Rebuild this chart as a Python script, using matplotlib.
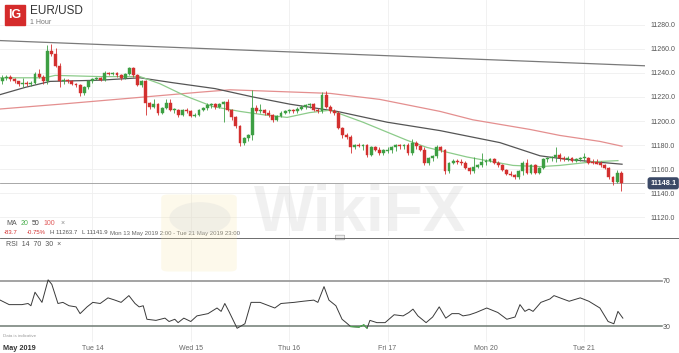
import numpy as np
import matplotlib.pyplot as plt
from matplotlib.patches import Rectangle, FancyBboxPatch, Circle
from matplotlib.transforms import blended_transform_factory

plt.rcParams['font.family'] = ['Liberation Sans', 'DejaVu Sans']

# EUR/USD hourly candles (price x 10000), hour index counted from Mon 13 May 00:00,
# weekend hours skipped so every trading day is 24 slots wide
first_hour = 2
opens = [11233, 11236, 11237, 11235, 11233, 11231, 11232, 11231, 11232, 11239,
         11237, 11233, 11258, 11256, 11246, 11233, 11234, 11233, 11231, 11230,
         11223, 11228, 11233, 11235, 11236, 11234, 11240, 11239, 11240, 11238,
         11236, 11239, 11244, 11238, 11230, 11233, 11215, 11212, 11214, 11207,
         11211, 11215, 11209, 11209, 11205, 11209, 11208, 11204, 11205, 11209,
         11211, 11213, 11214, 11212, 11214, 11216, 11209, 11203, 11196, 11182,
         11186, 11188, 11211, 11208, 11209, 11207, 11205, 11201, 11204, 11207,
         11208, 11209, 11208, 11210, 11212, 11213, 11214, 11209, 11208, 11222,
         11212, 11208, 11207, 11194, 11188, 11187, 11178, 11180, 11179, 11180,
         11172, 11178, 11176, 11173, 11175, 11176, 11178, 11180, 11179, 11180,
         11173, 11182, 11179, 11176, 11165, 11169, 11171, 11178, 11176, 11158,
         11165, 11167, 11166, 11165, 11161, 11158, 11162, 11163, 11166, 11167,
         11168, 11165, 11163, 11159, 11156, 11155, 11153, 11158, 11165, 11157,
         11163, 11157, 11161, 11168, 11169, 11170, 11172, 11169, 11168, 11169,
         11167, 11168, 11169, 11169, 11166, 11166, 11165, 11163, 11161, 11153,
         11149, 11157]
highs = [11238, 11238, 11238, 11236, 11233, 11236, 11233, 11233, 11241, 11243,
         11238, 11263, 11264, 11261, 11248, 11236, 11235, 11234, 11232, 11231,
         11229, 11234, 11236, 11237, 11237, 11242, 11241, 11241, 11241, 11239,
         11240, 11245, 11245, 11239, 11234, 11234, 11216, 11218, 11215, 11212,
         11218, 11218, 11211, 11210, 11210, 11211, 11209, 11207, 11210, 11212,
         11215, 11215, 11215, 11215, 11217, 11218, 11210, 11204, 11197, 11187,
         11189, 11226, 11213, 11214, 11210, 11209, 11206, 11205, 11208, 11209,
         11210, 11210, 11212, 11213, 11214, 11215, 11215, 11211, 11224, 11225,
         11213, 11210, 11208, 11195, 11190, 11188, 11181, 11182, 11181, 11181,
         11179, 11179, 11178, 11177, 11178, 11179, 11181, 11181, 11181, 11182,
         11185, 11183, 11180, 11178, 11170, 11172, 11180, 11179, 11177, 11166,
         11168, 11168, 11168, 11167, 11162, 11170, 11164, 11173, 11168, 11169,
         11169, 11167, 11164, 11160, 11158, 11156, 11159, 11167, 11168, 11164,
         11164, 11162, 11169, 11170, 11171, 11178, 11173, 11171, 11171, 11170,
         11169, 11170, 11173, 11170, 11168, 11168, 11167, 11164, 11162, 11154,
         11159, 11158]
lows = [11231, 11234, 11233, 11232, 11229, 11228, 11229, 11229, 11231, 11236,
        11231, 11231, 11254, 11245, 11228, 11231, 11232, 11230, 11228, 11221,
        11222, 11227, 11232, 11234, 11233, 11233, 11238, 11238, 11237, 11234,
        11235, 11238, 11237, 11229, 11228, 11205, 11210, 11211, 11205, 11206,
        11210, 11208, 11207, 11203, 11204, 11207, 11203, 11203, 11204, 11208,
        11209, 11211, 11210, 11211, 11199, 11208, 11201, 11194, 11179, 11180,
        11183, 11184, 11207, 11207, 11205, 11203, 11199, 11200, 11203, 11206,
        11207, 11207, 11207, 11209, 11210, 11211, 11208, 11207, 11207, 11211,
        11207, 11205, 11193, 11186, 11185, 11173, 11177, 11178, 11176, 11170,
        11171, 11175, 11172, 11172, 11173, 11173, 11175, 11177, 11177, 11172,
        11172, 11177, 11175, 11163, 11163, 11167, 11169, 11174, 11156, 11157,
        11164, 11164, 11163, 11160, 11156, 11157, 11161, 11162, 11163, 11166,
        11164, 11162, 11158, 11155, 11154, 11152, 11152, 11155, 11156, 11156,
        11156, 11156, 11160, 11166, 11167, 11166, 11167, 11167, 11167, 11166,
        11166, 11167, 11167, 11164, 11164, 11164, 11162, 11160, 11152, 11147,
        11148, 11141.9]
closes = [11236, 11237, 11235, 11233, 11231, 11232, 11231, 11232, 11239, 11237,
          11233, 11258, 11256, 11246, 11233, 11234, 11233, 11231, 11230, 11223,
          11228, 11233, 11235, 11236, 11234, 11240, 11239, 11240, 11238, 11236,
          11239, 11244, 11238, 11230, 11233, 11215, 11212, 11214, 11207, 11211,
          11215, 11209, 11209, 11205, 11209, 11208, 11204, 11205, 11209, 11211,
          11213, 11214, 11212, 11214, 11216, 11209, 11203, 11196, 11182, 11186,
          11188, 11211, 11208, 11209, 11207, 11205, 11201, 11204, 11207, 11208,
          11209, 11208, 11210, 11212, 11213, 11214, 11209, 11208, 11222, 11212,
          11208, 11207, 11194, 11188, 11187, 11178, 11180, 11179, 11180, 11172,
          11178, 11176, 11173, 11176, 11176, 11178, 11180, 11179, 11180, 11173,
          11182, 11179, 11176, 11165, 11169, 11171, 11178, 11176, 11158, 11165,
          11167, 11166, 11165, 11161, 11158, 11162, 11163, 11166, 11167, 11168,
          11165, 11163, 11159, 11156, 11155, 11153, 11158, 11165, 11157, 11163,
          11157, 11161, 11168, 11169, 11170, 11172, 11169, 11168, 11169, 11167,
          11168, 11169, 11169, 11165, 11165, 11164, 11163, 11161, 11153, 11149,
          11157, 11148.1]

# moving averages (hour index, price)
ma20_x = [1.5, 12.4, 14.9, 25.9, 35.6, 40.5, 46.6, 53.4, 60, 66.1, 71.5, 77, 82,
          90, 100.7, 105.6, 115.4, 126.6, 133.2, 138, 146.1, 152.2]
ma20 = [11236, 11236, 11238, 11237, 11237, 11231, 11221, 11212, 11208, 11205,
        11203, 11207, 11209, 11199, 11184, 11178, 11170, 11163, 11162, 11163,
        11166, 11167]
ma50_x = [1.5, 7.6, 13.7, 25.9, 35.6, 43.4, 53.9, 63.2, 72.2, 83.7, 95.9, 108.8,
          123.4, 133.2, 139.8, 153.2]
ma50 = [11222, 11228, 11233, 11234, 11236, 11232, 11227, 11220, 11214, 11208,
        11199, 11192, 11182, 11171, 11168, 11164]
ma100_x = [1.5, 16.1, 33.2, 50.2, 57.6, 82, 94.1, 108.8, 116.8, 130.7, 138,
           147.8, 153.2]
ma100 = [11210, 11214, 11219, 11224, 11226, 11223, 11218, 11208, 11201, 11193,
         11188, 11183, 11179]

# resistance trendline end points
trend_x = [1.46, 158.8]
trend_y = [11267, 11246]
last_price = 11148.1

# RSI(14)
rsi_x = [1.5, 3.7, 6.8, 8.3, 9, 10, 11.7, 13.2, 14.1, 15.6, 16.8, 18.3, 20, 21,
         22.7, 24.1, 25.9, 27.8, 29.5, 31, 32.9, 34.4, 35.4, 36.4, 37.3, 39.5,
         41.7, 42.7, 44.1, 44.9, 46.3, 48, 49.5, 52.2, 54.4, 55.4, 56.3, 57.3,
         59.3, 61.2, 62.7, 64.9, 68.5, 70, 73.2, 75.4, 78, 79, 80.5, 81.7, 83.4,
         84.9, 85.9, 87, 89, 90.2, 91, 91.7, 93.4, 95.4, 97.6, 99.8, 101.2, 102.2,
         103.4, 105.4, 107, 108.6, 110.2, 111.7, 113.4, 114.4, 116, 117.6, 120.2,
         122.9, 125.1, 127.1, 128.3, 129.5, 130.5, 131.5, 133.4, 135.6, 136.6,
         138.8, 140.3, 143, 145.1, 147.8, 149.8, 151.2, 152.2, 153.4]
rsi = [53, 49, 49, 50, 48, 60, 51, 71, 67, 50, 51, 48, 47, 41, 47, 51, 50, 55, 53,
       51, 57, 50, 47, 48, 36, 35, 37, 34, 36, 33, 37, 34, 39, 41, 46, 43, 50, 43,
       28, 32, 51, 51, 46, 50, 51, 52, 53, 51, 65, 53, 48, 36, 33, 29.5, 29, 31,
       28, 35, 33, 33, 40, 39, 42, 45, 39, 33, 38, 47, 37, 41, 41, 39, 40, 42, 46,
       42, 36, 38, 49, 43, 45, 43, 51, 54, 57, 54, 52, 55, 52, 46, 34, 32, 43, 37]

day_ticks = [24, 48, 72, 96, 120, 144]
day_labels = ['Tue 14', 'Wed 15', 'Thu 16', 'Fri 17', 'Mon 20', 'Tue 21']
price_ticks = [11120, 11140, 11160, 11180, 11200, 11220, 11240, 11260, 11280]

W, H = 679, 353
fig = plt.figure(figsize=(W / 100, H / 100), dpi=100)
fig.patch.set_facecolor('white')

def fx(px):
    return px / W

def fy(py):
    return 1 - py / H

up_col, down_col = '#3d9f43', '#d3302f'
xmin, xmax = 1.46, 158.8

# ---- price panel
ax = fig.add_axes([0, fy(236), fx(645), 236 / H])
ax.set_xlim(xmin, xmax)
ax.set_ylim(11104.2, 11300.8)
for s in ax.spines.values():
    s.set_visible(False)

for p in price_ticks:
    ax.axhline(p, color='#efefef', lw=0.6, zorder=0)
for d in day_ticks:
    ax.axvline(d, color='#efefef', lw=0.6, zorder=0)

hours = np.arange(first_hour, first_hour + len(closes))
o = np.array(opens, float)
c = np.array(closes, float)
hi = np.array(highs, float)
lo = np.array(lows, float)
cols = np.where(c >= o, up_col, down_col)
ax.vlines(hours, lo, hi, colors=cols, lw=0.6, zorder=3)
body = np.abs(c - o)
body = np.where(body < 0.6, 0.6, body)
ax.bar(hours, body, bottom=np.minimum(o, c), width=0.7, color=cols,
       edgecolor=cols, linewidth=0.3, zorder=4)

ax.plot(ma100_x, ma100, color='#e48f8f', lw=0.9, zorder=2)
ax.plot(ma50_x, ma50, color='#555555', lw=0.9, zorder=2)
ax.plot(ma20_x, ma20, color='#8ccb8a', lw=0.9, zorder=2)
ax.plot(trend_x, trend_y, color='#7a7a7a', lw=0.9, zorder=2)
ax.axhline(last_price, color='#9a9a9a', lw=0.6, zorder=1)

ax.yaxis.tick_right()
ax.set_yticks(price_ticks)
ax.set_yticklabels([f'{p:.1f}' for p in price_ticks], fontsize=5, color='#555555')
ax.tick_params(axis='y', length=0, pad=4)
ax.set_xticks([])

tr = blended_transform_factory(ax.transAxes, ax.transData)
ax.text(1.008, last_price, f'{last_price:.1f}', transform=tr, ha='left',
        va='center', fontsize=5.3, color='white', fontweight='bold', zorder=6,
        bbox=dict(boxstyle='round,pad=0.35', fc='#3b4966', ec='none'))

# ---- RSI panel
ax2 = fig.add_axes([0, fy(342), fx(645), 102 / H])
ax2.set_xlim(xmin, xmax)
ax2.set_ylim(15.8, 106.4)
for s in ax2.spines.values():
    s.set_visible(False)
for d in day_ticks:
    ax2.axvline(d, color='#efefef', lw=0.6, zorder=0)
ax2.axhline(70, xmax=662 / 645, color='#9c9c9c', lw=1.3, clip_on=False, zorder=1)
ax2.axhline(30, xmax=662 / 645, color='#6f7a73', lw=1.1, clip_on=False, zorder=1)
ax2.plot(rsi_x, rsi, color='#3a3a3a', lw=0.7, zorder=3)
rx = np.array(rsi_x)
rv = np.array(rsi, float)
low_seg = np.where((rv[:-1] < 31.5) & (rv[1:] < 31.5))[0]
for k in low_seg:
    ax2.plot(rx[k:k + 2], rv[k:k + 2], color='#4caf50', lw=0.8, zorder=4)

ax2.set_yticks([30, 70])
ax2.yaxis.tick_right()
ax2.set_yticklabels(['30', '70'], fontsize=5, color='#555555')
ax2.tick_params(axis='y', length=0, pad=13)
ax2.set_xticks(day_ticks)
ax2.set_xticklabels(day_labels, fontsize=5, color='#666666')
ax2.tick_params(axis='x', length=0, pad=2.5)

# ---- header and legends
fig.add_artist(Rectangle((fx(5), fy(25)), fx(20) - fx(0), 20 / H,
                         transform=fig.transFigure, color='#d52b2b', zorder=5))
fig.text(fx(15), fy(15), 'IG', color='white', fontsize=9, fontweight='bold',
         ha='center', va='center', zorder=6)
fig.text(fx(30), fy(11), 'EUR/USD', fontsize=8.5, color='#333333', va='center')
fig.text(fx(30), fy(22), '1 Hour', fontsize=5, color='#777777', va='center')

fig.text(fx(6), fy(223), 'MA', fontsize=5, color='#555555', va='center')
fig.text(fx(21), fy(223), '20', fontsize=5, color='#4caf50', va='center')
fig.text(fx(32), fy(223), '50', fontsize=5, color='#444444', va='center')
fig.text(fx(43), fy(223), '100', fontsize=5, color='#e05a5a', va='center')
fig.text(fx(61), fy(223), '\u00d7', fontsize=5, color='#888888', va='center')

row2 = 4.3
fig.text(fx(4), fy(233), '-83.7', fontsize=row2, color='#d3302f', va='center')
fig.text(fx(27), fy(233), '-0.75%', fontsize=row2, color='#d3302f', va='center')
fig.text(fx(50), fy(233), 'H 11263.7', fontsize=row2, color='#555555', va='center')
fig.text(fx(82), fy(233), 'L 11141.9', fontsize=row2, color='#555555', va='center')
fig.text(fx(110), fy(233), 'Mon 13 May 2019 2:00 - Tue 21 May 2019 23:00',
         fontsize=row2, color='#666666', va='center')

fig.add_artist(plt.Line2D([0, 1], [fy(237.5), fy(237.5)], transform=fig.transFigure,
                          color='#555555', lw=0.6))
fig.add_artist(FancyBboxPatch((fx(336), fy(239.5)), fx(8), 4 / H,
                              boxstyle='round,pad=0.001', transform=fig.transFigure,
                              fc='#eeeeee', ec='#999999', lw=0.4))

fig.text(fx(6), fy(245), 'RSI  14  70  30  \u00d7', fontsize=5, color='#555555',
         va='center')
fig.text(fx(3), fy(336), 'Data is indicative', fontsize=3.2, color='#999999',
         va='center')
fig.text(fx(3), fy(348), 'May 2019', fontsize=5.3, color='#333333',
         fontweight='bold', va='center')

# ---- faint watermark
fig.add_artist(FancyBboxPatch((fx(168), fy(268)), fx(62), 70 / H,
                              boxstyle='round,pad=0.01', transform=fig.transFigure,
                              fc='#f6e6a8', ec='none', alpha=0.22, zorder=7))
fig.add_artist(Circle((fx(200), fy(218)), 0.045, transform=fig.transFigure,
                      fc='#d8d8d8', ec='none', alpha=0.3, zorder=7))
fig.text(fx(360), fy(214), 'WikiFX', fontsize=46, fontweight='bold',
         color='#d0d0d0', alpha=0.3, ha='center', va='center', zorder=7)

fig.savefig('out.png', dpi=100)
